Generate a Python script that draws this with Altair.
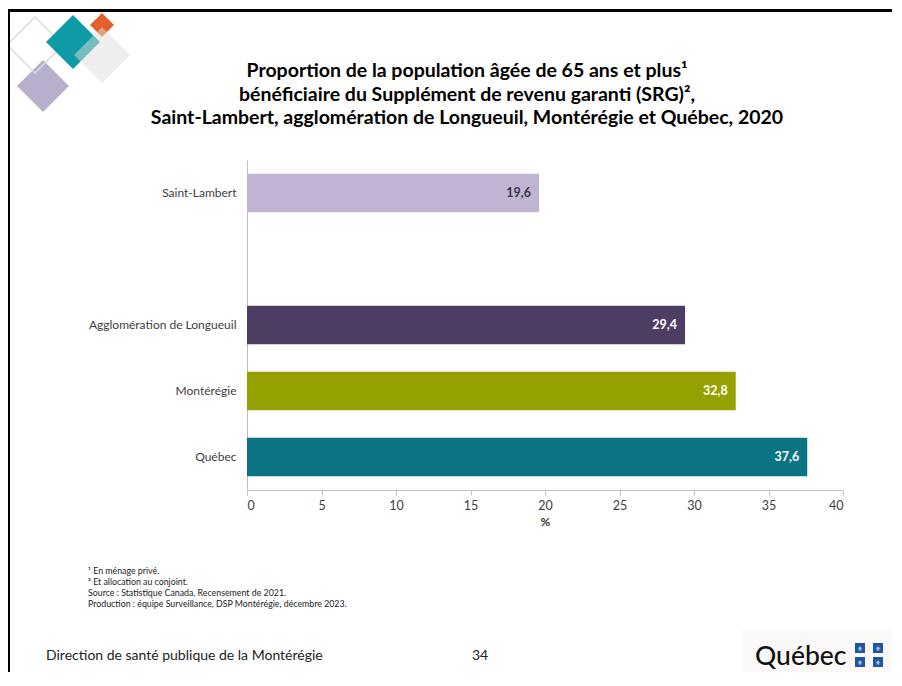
import altair as alt
import pandas as pd

# ---------------- data ----------------
categories = ["Saint-Lambert", " ", "Agglomération de Longueuil", "Montérégie", "Québec"]
bar_names = ["Saint-Lambert", "Agglomération de Longueuil", "Montérégie", "Québec"]
bar_values = [19.6, 29.4, 32.8, 37.6]
bar_colors = ["#C1B4D3", "#4E3D63", "#95A100", "#0A7482"]
label_colors = ["#3B3548", "#FFFFFF", "#FFFFFF", "#FFFFFF"]
x_ticks = [0, 5, 10, 15, 20, 25, 30, 35, 40]

title_lines = [
    "Proportion de la population âgée de 65 ans et plus¹",
    "bénéficiaire du Supplément de revenu garanti (SRG)²,",
    "Saint-Lambert, agglomération de Longueuil, Montérégie et Québec, 2020",
]
footnotes = [
    "¹ En ménage privé.",
    "² Et allocation au conjoint.",
    "Source : Statistique Canada, Recensement de 2021.",
    "Production : équipe Surveillance, DSP Montérégie, décembre 2023.",
]
footer_left = "Direction de santé publique de la Montérégie"
page_number = "34"

FONT = "Lato"

df = pd.DataFrame({
    "name": bar_names,
    "value": bar_values,
    "label": [f"{v:.1f}".replace(".", ",") for v in bar_values],
    "color": bar_colors,
    "lcolor": label_colors,
})

# plot area origin on the page
OX, OY = 247, 160
TOTAL_W, TOTAL_H = 884, 664
one = pd.DataFrame({"k": [0]})


def ptext(text, px, py, **kw):
    return alt.Chart(one).mark_text(**kw).encode(
        x=alt.value(px - OX), y=alt.value(py - OY), text=alt.value(text)
    )


def prect(x0, x1, y0, y1, color):
    return alt.Chart(one).mark_rect(color=color).encode(
        x=alt.value(x0 - OX), x2=alt.value(x1 - OX),
        y=alt.value(y0 - OY), y2=alt.value(y1 - OY))


def diamond(px, py, r, **kw):
    return alt.Chart(one).mark_point(shape="diamond", size=4 * r * r, **kw).encode(
        x=alt.value(px - OX), y=alt.value(py - OY)
    )


def square(px, py, side, color):
    return alt.Chart(one).mark_point(shape="square", size=side * side, filled=True,
                                     color=color, opacity=1).encode(
        x=alt.value(px - OX), y=alt.value(py - OY)
    )


bars = alt.Chart(df).mark_bar().encode(
    x=alt.X("value:Q",
            scale=alt.Scale(domain=[0, 40], nice=False),
            axis=alt.Axis(values=x_ticks, title="%", grid=False,
                          domainColor="#BFBFBF", tickColor="#BFBFBF", tickSize=5,
                          labelFont=FONT, labelFontSize=12.5, labelColor="#404040",
                          labelPadding=4, titleFont=FONT, titleFontSize=12,
                          titleFontWeight="bold", titleColor="#333333", titlePadding=5)),
    y=alt.Y("name:N",
            scale=alt.Scale(domain=categories, paddingInner=0.42, paddingOuter=0.21),
            axis=alt.Axis(title=None, ticks=False, domainColor="#BFBFBF",
                          labelFont=FONT, labelFontSize=12, labelColor="#404040",
                          labelPadding=11)),
    color=alt.Color("color:N", scale=None),
)

labels = alt.Chart(df).mark_text(align="right", dx=-8, font=FONT, fontWeight="bold",
                                 fontSize=12.5).encode(
    x="value:Q", y="name:N", text="label:N",
    color=alt.Color("lcolor:N", scale=None),
)

layers = [bars, labels]

# title
for i, line in enumerate(title_lines):
    layers.append(ptext(line, 467, [77, 101, 124][i], font=FONT, fontSize=19.5,
                        fontWeight="bold", color="#000000", align="center",
                        baseline="alphabetic"))

# footnotes
for i, line in enumerate(footnotes):
    layers.append(ptext(line, 88, [574, 585, 596, 607][i], font=FONT, fontSize=8.8,
                        color="#222222", align="left", baseline="alphabetic"))

# footer
layers.append(ptext(footer_left, 46, 660, font=FONT, fontSize=14, color="#222222",
                    align="left", baseline="alphabetic"))
layers.append(ptext(page_number, 480, 660, font=FONT, fontSize=14, color="#222222",
                    align="center", baseline="alphabetic"))

# Québec logo
layers.append(prect(742, 892, 630, 672, "#FAF9F7"))
layers.append(ptext("Québec", 755, 665, font=FONT, fontSize=26.5, fontWeight=500,
                    color="#111111", align="left", baseline="alphabetic"))
for cx in (860, 878):
    for cy in (648, 662):
        layers.append(square(cx, cy, 10, "#1F55A5"))
        layers.append(ptext("⚜", cx, cy + 2.5, font="DejaVu Sans", fontSize=6.5,
                            color="#FFFFFF", align="center", baseline="alphabetic"))

# top-left decorative diamonds
layers.append(diamond(43, 86, 26, filled=True, color="#B7AFCB", opacity=1))
layers.append(diamond(35, 45, 28, filled=False, color="#D8DED3", strokeWidth=1.5, opacity=1))
layers.append(diamond(73, 42, 27, filled=True, color="#0E9AA7", opacity=1))
layers.append(diamond(102, 25, 12, filled=True, color="#E4602A", opacity=1))
layers.append(diamond(102, 55, 28, filled=True, color="#E2DDDA", opacity=0.5))

# slide frame
layers.append(prect(8, 892, 9, 12, "#000000"))
layers.append(prect(7, 10, 9, 672, "#000000"))

chart = alt.layer(*layers).properties(
    width=596, height=330,
    autosize="none",
    padding={"left": OX - 8, "top": OY - 8, "right": TOTAL_W - (OX - 8) - 596,
             "bottom": TOTAL_H - (OY - 8) - 330},
    background="#FFFFFF",
).configure_view(stroke=None)

chart.save("out.html", embed_options={"renderer": "svg", "actions": False})
